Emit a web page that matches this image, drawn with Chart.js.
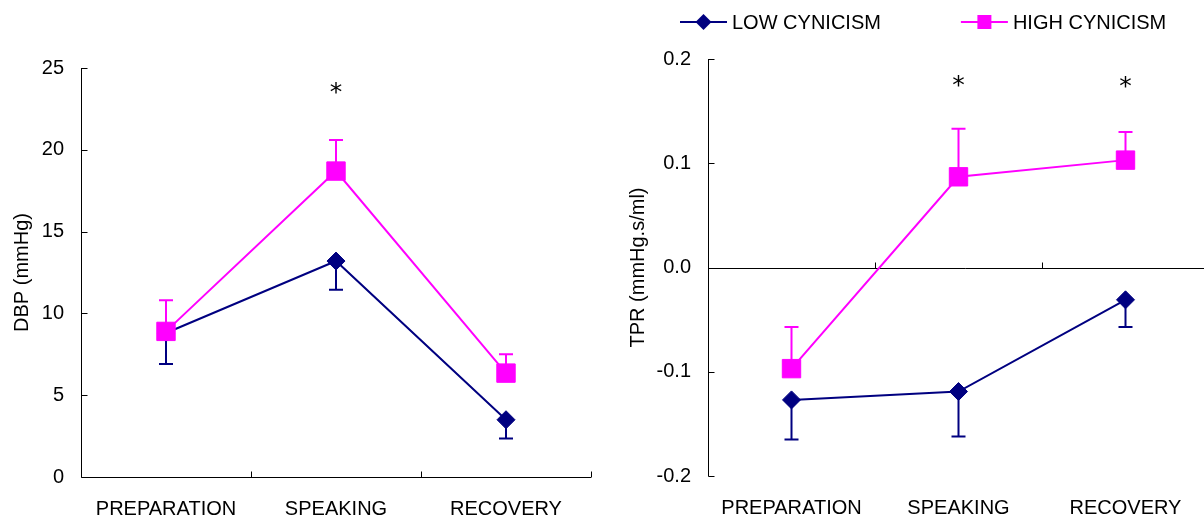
<!DOCTYPE html>
<html>
<head>
<meta charset="utf-8">
<script src="https://cdn.jsdelivr.net/npm/chart.js@4.4.1/dist/chart.umd.min.js"></script>
<style>
  html, body { margin: 0; padding: 0; background: #fff; overflow: hidden; width: 1204px; height: 515px; }
  canvas { position: absolute; top: 0; }
  #dbpChart { left: 0; }
  #tprChart { left: 610px; }
</style>
</head>
<body>
<canvas id="dbpChart" width="605" height="515"></canvas>
<canvas id="tprChart" width="613" height="515"></canvas>
<script>
// Study phases and groups
const phases = ['PREPARATION', 'SPEAKING', 'RECOVERY'];
const groupNames = ['LOW CYNICISM', 'HIGH CYNICISM'];

// Diastolic blood pressure change (mmHg), mean and SE
const dbpLow = [8.8, 13.2, 3.5];
const dbpLowErr = [1.9, 1.75, 1.15];
const dbpHigh = [8.9, 18.7, 6.35];
const dbpHighErr = [1.9, 1.9, 1.15];
const dbpTicks = [0, 5, 10, 15, 20, 25];
const dbpStarPhases = ['SPEAKING'];
const dbpStarLevels = [23.8];

// Total peripheral resistance change (mmHg.s/ml), mean and SE
const tprLow = [-0.127, -0.119, -0.031];
const tprLowErr = [0.038, 0.043, 0.026];
const tprHigh = [-0.097, 0.087, 0.103];
const tprHighErr = [0.040, 0.046, 0.027];
const tprTicks = [-0.2, -0.1, 0, 0.1, 0.2];
const tprStarPhases = ['SPEAKING', 'RECOVERY'];
const tprStarLevels = [0.179, 0.178];

const NAVY = '#000080';
const MAGENTA = '#FF00FF';
const FONT = '"Liberation Sans", Arial, sans-serif';

Chart.defaults.font.family = FONT;
Chart.defaults.font.size = 20;
Chart.defaults.color = '#000';

function line(ctx, x1, y1, x2, y2) {
  ctx.beginPath();
  ctx.moveTo(x1, y1);
  ctx.lineTo(x2, y2);
  ctx.stroke();
}

// Axis lines with inward ticks; the category axis sits at a chosen y value
const axisFrame = {
  id: 'axisFrame',
  beforeDatasetsDraw(chart, args, opts) {
    const { ctx, chartArea, scales: { x, y } } = chart;
    ctx.save();
    ctx.strokeStyle = '#000';
    ctx.lineWidth = 1;
    const L = Math.round(chartArea.left) + 0.5;
    line(ctx, L, y.getPixelForValue(y.max), L, y.getPixelForValue(y.min) + 0.5);
    y.ticks.forEach(t => {
      const py = Math.round(y.getPixelForValue(t.value)) + 0.5;
      line(ctx, L, py, L + 6, py);
    });
    const base = Math.round(y.getPixelForValue(opts.crossAt)) + 0.5;
    const xEnd = opts.toEdge ? chart.width : chartArea.right;
    line(ctx, L, base, xEnd, base);
    const n = x.getLabels().length;
    const step = x.getPixelForValue(1) - x.getPixelForValue(0);
    for (let i = 0; i < n; i++) {
      const px = Math.round(x.getPixelForValue(i) + step / 2) + 0.5;
      if (px < chart.width) line(ctx, px, base, px, base - 6);
    }
    ctx.restore();
  }
};

// One-sided standard-error bars (direction set per dataset)
const errorBars = {
  id: 'errorBars',
  beforeDatasetsDraw(chart) {
    const { ctx, scales: { y } } = chart;
    chart.data.datasets.forEach((ds, di) => {
      const meta = chart.getDatasetMeta(di);
      ctx.save();
      ctx.strokeStyle = ds.borderColor;
      ctx.lineWidth = 2;
      meta.data.forEach((pt, i) => {
        const end = y.getPixelForValue(ds.data[i] + ds.errDir * ds.errors[i]);
        ctx.beginPath();
        ctx.moveTo(pt.x, pt.y);
        ctx.lineTo(pt.x, end);
        ctx.moveTo(pt.x - 7, end);
        ctx.lineTo(pt.x + 7, end);
        ctx.stroke();
      });
      ctx.restore();
    });
  }
};

// Significance asterisks above chosen phases
const sigMarks = {
  id: 'sigMarks',
  afterDatasetsDraw(chart, args, opts) {
    const { ctx, scales: { x, y } } = chart;
    ctx.save();
    ctx.font = '25px "DejaVu Sans", sans-serif';
    ctx.fillStyle = '#000';
    ctx.textAlign = 'center';
    ctx.textBaseline = 'alphabetic';
    const m = ctx.measureText('*');
    const mid = (m.actualBoundingBoxAscent - m.actualBoundingBoxDescent) / 2;
    opts.phases.forEach((p, i) => {
      const px = x.getPixelForValue(x.getLabels().indexOf(p));
      const py = y.getPixelForValue(opts.levels[i]);
      ctx.fillText('*', px, py + mid);
    });
    ctx.restore();
  }
};

// Legend with a short line through each marker
const lineLegend = {
  id: 'lineLegend',
  afterDraw(chart, args, opts) {
    const ctx = chart.ctx;
    ctx.save();
    ctx.font = '20px ' + FONT;
    ctx.textBaseline = 'middle';
    ctx.textAlign = 'left';
    let x = opts.x;
    const y = opts.y;
    chart.data.datasets.forEach(ds => {
      ctx.strokeStyle = ds.borderColor;
      ctx.fillStyle = ds.borderColor;
      ctx.lineWidth = 2;
      line(ctx, x, y, x + 47, y);
      const cx = x + 23.5;
      ctx.beginPath();
      if (ds.pointStyle === 'rectRot') {
        const r = 8;
        ctx.moveTo(cx - r, y); ctx.lineTo(cx, y - r); ctx.lineTo(cx + r, y); ctx.lineTo(cx, y + r);
        ctx.closePath();
      } else {
        ctx.rect(cx - 7, y - 7, 14, 14);
      }
      ctx.fill();
      ctx.fillStyle = '#000';
      ctx.fillText(ds.label, x + 52, y + 1);
      x += 52 + ctx.measureText(ds.label).width + 80;
    });
    ctx.restore();
  }
};

function seriesSet(low, lowErr, high, highErr) {
  return [
    {
      label: groupNames[0], data: low, errors: lowErr, errDir: -1, order: 2,
      borderColor: NAVY, backgroundColor: NAVY, borderWidth: 2,
      pointStyle: 'rectRot', pointRadius: 9, pointHoverRadius: 9, pointBorderWidth: 1,
      pointBackgroundColor: NAVY, pointBorderColor: NAVY, tension: 0
    },
    {
      label: groupNames[1], data: high, errors: highErr, errDir: 1, order: 1,
      borderColor: MAGENTA, backgroundColor: MAGENTA, borderWidth: 2,
      pointStyle: 'rect', pointRadius: 13, pointHoverRadius: 13, pointBorderWidth: 1,
      pointBackgroundColor: MAGENTA, pointBorderColor: MAGENTA, tension: 0
    }
  ];
}

function makeChart(id, cfg) {
  return new Chart(document.getElementById(id), {
    type: 'line',
    data: { labels: phases, datasets: seriesSet(cfg.low, cfg.lowErr, cfg.high, cfg.highErr) },
    plugins: cfg.plugins,
    options: {
      responsive: false,
      animation: false,
      devicePixelRatio: 1,
      layout: { padding: cfg.padding },
      plugins: {
        legend: { display: false },
        tooltip: { enabled: false },
        axisFrame: { crossAt: cfg.crossAt, toEdge: cfg.toEdge },
        sigMarks: { phases: cfg.starPhases, levels: cfg.starLevels },
        lineLegend: { x: 70, y: 22 }
      },
      scales: {
        x: {
          type: 'category',
          offset: true,
          grid: { display: false, drawTicks: false },
          border: { display: false },
          ticks: { padding: 20, maxRotation: 0, autoSkip: false, font: { size: 20 } },
          afterFit: s => { s.height = cfg.xHeight; }
        },
        y: {
          min: cfg.ticks[0],
          max: cfg.ticks[cfg.ticks.length - 1],
          grid: { display: false, drawTicks: false },
          border: { display: false },
          afterBuildTicks: s => { s.ticks = cfg.ticks.map(v => ({ value: v })); },
          ticks: { padding: 17, font: { size: 20 }, callback: cfg.fmt },
          title: { display: true, text: cfg.title, font: { size: 20 }, padding: { top: cfg.titlePad, bottom: 0 } },
          afterFit: s => { s.width = cfg.yWidth; }
        }
      }
    }
  });
}

makeChart('dbpChart', {
  low: dbpLow, lowErr: dbpLowErr, high: dbpHigh, highErr: dbpHighErr,
  ticks: dbpTicks, fmt: v => String(v), title: 'DBP (mmHg)',
  starPhases: dbpStarPhases, starLevels: dbpStarLevels,
  crossAt: 0, toEdge: false,
  padding: { left: 0, right: 10, top: 68, bottom: 0 },
  xHeight: 38, yWidth: 81, titlePad: 10,
  plugins: [axisFrame, errorBars, sigMarks]
});

makeChart('tprChart', {
  low: tprLow, lowErr: tprLowErr, high: tprHigh, highErr: tprHighErr,
  ticks: tprTicks, fmt: v => v.toFixed(1), title: 'TPR (mmHg.s/ml)',
  starPhases: tprStarPhases, starLevels: tprStarLevels,
  crossAt: 0, toEdge: true,
  padding: { left: 0, right: 7, top: 59, bottom: 0 },
  xHeight: 39, yWidth: 98, titlePad: 16,
  plugins: [axisFrame, errorBars, sigMarks, lineLegend]
});
</script>
</body>
</html>
